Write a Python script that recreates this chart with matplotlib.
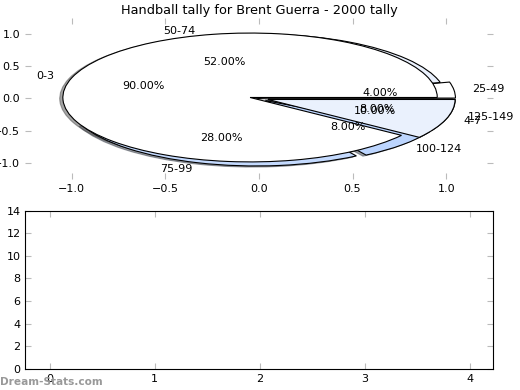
import matplotlib
matplotlib.use("Agg")
import matplotlib.pyplot as plt

# --- Data ---
low_labels = ["0-3", "4-7"]
low_values = [90, 10]
high_labels = ["25-49", "50-74", "75-99", "100-124", "125-149"]
high_values = [4, 52, 28, 8, 8]

bar_xticks = [0, 1, 2, 3, 4]
bar_yticks = [0, 2, 4, 6, 8, 10, 12, 14]

low_colors = ["#ffffff", "#eaf1fd"]
high_colors = ["#ffffff", "#eaf1fd", "#c4dafe", "#bcd5fe", "#a9c8fd"]

plt.rcParams["font.family"] = "DejaVu Sans"
plt.rcParams["font.size"] = 8

fig = plt.figure(figsize=(5.2, 3.9), dpi=100)

# --- Pie (top) ---
ax1 = fig.add_axes([0.048, 0.541, 0.900, 0.413])
shadow = {"ox": -0.012, "oy": -0.012}
edge = {"linewidth": 0.8, "edgecolor": "black"}
ax1.pie(high_values, labels=high_labels, colors=high_colors, autopct="%.2f%%",
        explode=[0.05, 0, 0.05, 0.05, 0.05], shadow=shadow,
        wedgeprops=edge, textprops={"fontsize": 8})
ax1.pie(low_values, labels=low_labels, colors=low_colors, autopct="%.2f%%",
        explode=[0.05, 0.05], shadow=shadow,
        wedgeprops=edge, textprops={"fontsize": 8})
ax1.set_aspect("auto")
ax1.set_xlim(-1.25, 1.25)
ax1.set_ylim(-1.25, 1.25)
ax1.set_xticks([-1.0, -0.5, 0.0, 0.5, 1.0])
ax1.set_yticks([-1.0, -0.5, 0.0, 0.5, 1.0])
ax1.set_frame_on(False)
ax1.tick_params(direction="in", length=4, color="#bbbbbb", labelsize=8,
                top=True, right=True)
ax1.set_title("Handball tally for Brent Guerra - 2000 tally", fontsize=9.3, pad=3)

# --- Empty bar chart (bottom) ---
ax2 = fig.add_axes([0.049, 0.054, 0.899, 0.406])
ax2.set_xlim(-0.23, 4.22)
ax2.set_ylim(0, 14)
ax2.set_xticks(bar_xticks)
ax2.set_yticks(bar_yticks)
ax2.tick_params(direction="in", length=4, color="#bbbbbb", labelsize=8,
                top=True, right=True)

fig.text(0.0, 0.008, "Dream-Stats.com", fontsize=7.6, color="#999999",
         ha="left", va="bottom", fontweight="bold")

fig.savefig("out.png", dpi=100)
